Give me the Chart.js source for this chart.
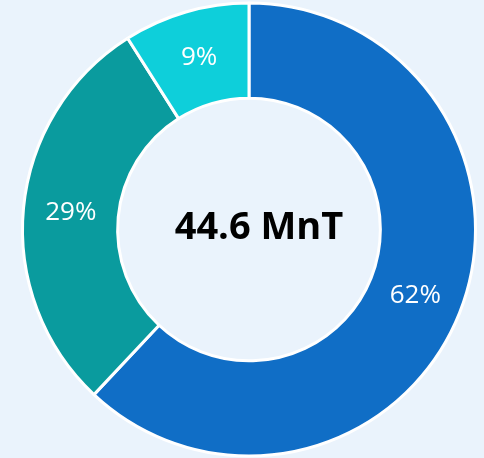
<!DOCTYPE html>
<html>
<head>
<meta charset="utf-8">
<script src="https://cdn.jsdelivr.net/npm/chart.js@4"></script>
<style>
  html, body { margin: 0; padding: 0; background: #EAF3FC; }
  #wrap { width: 484px; height: 458px; }
</style>
</head>
<body>
<div id="wrap"><canvas id="donutChart"></canvas></div>
<script>
// Chart data
const segmentLabels = ['Segment A', 'Segment B', 'Segment C'];
const segmentShares = [62, 29, 9];
const segmentColors = ['#106EC6', '#0A9B9E', '#0ECFDA'];
const centerText = '44.6 MnT';

// Draws the percent labels on each slice and the total in the middle
const labelPlugin = {
    id: 'labelPlugin',
    afterDatasetsDraw(chart) {
        const ctx = chart.ctx;
        const meta = chart.getDatasetMeta(0);
        ctx.save();
        ctx.fillStyle = '#ffffff';
        ctx.font = '26px "Open Sans"';
        ctx.textAlign = 'center';
        ctx.textBaseline = 'middle';
        meta.data.forEach((arc, i) => {
            const pos = arc.tooltipPosition();
            ctx.fillText(segmentShares[i] + '%', pos.x, pos.y);
        });
        const first = meta.data[0];
        ctx.fillStyle = '#000000';
        ctx.font = 'bold 38px "Open Sans"';
        ctx.fillText(centerText, first.x + 10, first.y - 1);
        ctx.restore();
    }
};

new Chart(document.getElementById('donutChart'), {
    type: 'doughnut',
    data: {
        labels: segmentLabels,
        datasets: [{
            data: segmentShares,
            backgroundColor: segmentColors,
            borderColor: '#ffffff',
            borderWidth: 3
        }]
    },
    options: {
        responsive: true,
        maintainAspectRatio: false,
        animation: false,
        cutout: '58%',
        layout: { padding: { left: 21, right: 7, top: 1, bottom: 0 } },
        plugins: {
            legend: { display: false },
            tooltip: { enabled: false }
        }
    },
    plugins: [labelPlugin]
});
</script>
</body>
</html>
